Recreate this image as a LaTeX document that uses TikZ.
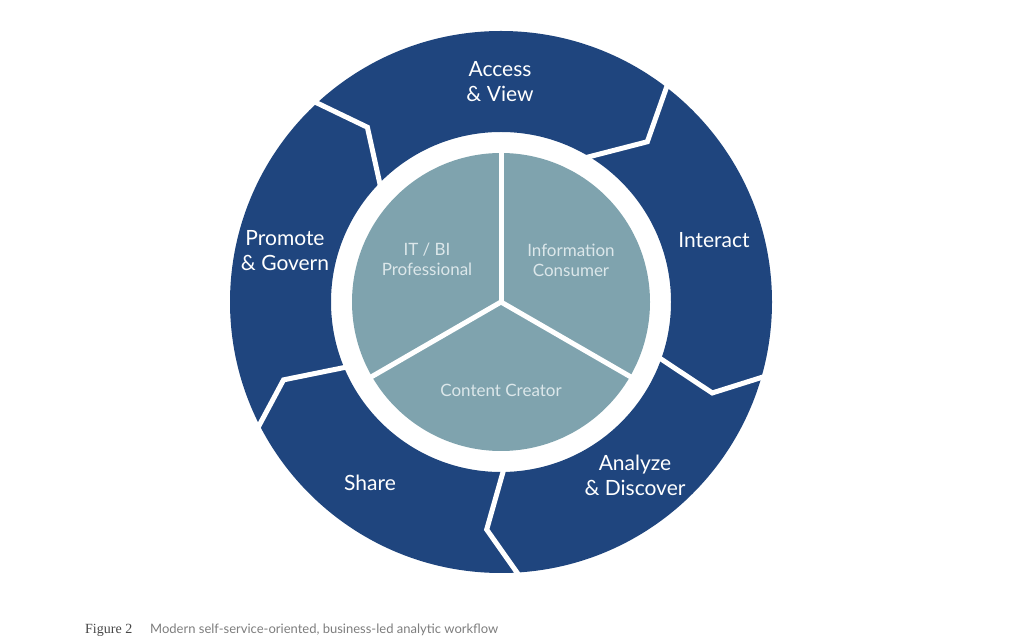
\documentclass[tikz,border=0pt]{standalone}
\usepackage{fontspec}
\setmainfont{Lato}
\newfontfamily\capserif{Liberation Serif}
\usetikzlibrary{math}
\definecolor{ringblue}{RGB}{31,69,126}
\definecolor{pieteal}{RGB}{127,163,174}
\definecolor{pietext}{RGB}{220,231,234}
\definecolor{capdark}{RGB}{70,70,70}
\definecolor{capgrey}{RGB}{125,125,125}

\begin{document}
\begin{tikzpicture}[x=1pt,y=1pt,
  steplabel/.style={text=white,align=center,font=\fontsize{21}{25}\selectfont},
  rolelabel/.style={text=pietext,align=center,font=\fontsize{17}{20}\selectfont},
  gapline/.style={draw=white,line width=5pt,line join=miter}]
\tikzmath{
\rout=271;
\rin=170;
\rpie=149;
}
\useasboundingbox (0,0) rectangle (1023,640);

\begin{scope}[shift={(501,338)}]
 %ring
 \fill[ringblue,even odd rule] (0,0) circle[radius=\rout] (0,0) circle[radius=\rin];

 %gaps between the steps
 \coordinate (S1I) at (136.9:164);
 \coordinate (S1K) at (127.4:220);
 \coordinate (S1O) at (133.4:279);
 \coordinate (S2I) at (60.8:164);
 \coordinate (S2K) at (47.6:217);
 \coordinate (S2O) at (52.9:279);
 \coordinate (S3I) at (-19.1:164);
 \coordinate (S3K) at (-23.3:230);
 \coordinate (S3O) at (-15.1:279);
 \coordinate (S4I) at (-88.7:164);
 \coordinate (S4K) at (-93.6:228);
 \coordinate (S4O) at (-85.6:279);
 \coordinate (S5I) at (203.1:164);
 \coordinate (S5K) at (199.7:231);
 \coordinate (S5O) at (208.1:279);

 \draw[gapline] (S1I) -- (S1K) -- (S1O);
 \draw[gapline] (S2I) -- (S2K) -- (S2O);
 \draw[gapline] (S3I) -- (S3K) -- (S3O);
 \draw[gapline] (S4I) -- (S4K) -- (S4O);
 \draw[gapline] (S5I) -- (S5K) -- (S5O);

 %pie
 \fill[pieteal] (0,0) circle[radius=\rpie];
 \foreach \ang in {90,210,330}
  \draw[white,line width=5pt,line cap=round] (0,0) -- (\ang:\rpie+6);

 %labels
 \node[steplabel] (access) at (-1,220) {Access\\\& View};
 \node[steplabel] (interact) at (213,62) {Interact};
 \node[steplabel] (analyze) at (134,-173) {Analyze\\\& Discover};
 \node[steplabel] (share) at (-131,-181) {Share};
 \node[steplabel] (promote) at (-216,51) {Promote\\\& Govern};

 \node[rolelabel] (itbi) at (-74,43) {IT / BI\\Professional};
 \node[rolelabel] (consumer) at (70,42) {Information\\Consumer};
 \node[rolelabel] (creator) at (0,-88) {Content Creator};
\end{scope}

%caption
\node[anchor=base west,inner sep=0pt,text=capdark,font=\capserif\fontsize{14}{16}\selectfont] (figno) at (85,6) {Figure 2};
\node[anchor=base west,inner sep=0pt,text=capgrey,font=\fontsize{13}{15}\selectfont] (figcap) at (150,6) {Modern self-service-oriented, business-led analytic workflow};
\end{tikzpicture}
\end{document}
